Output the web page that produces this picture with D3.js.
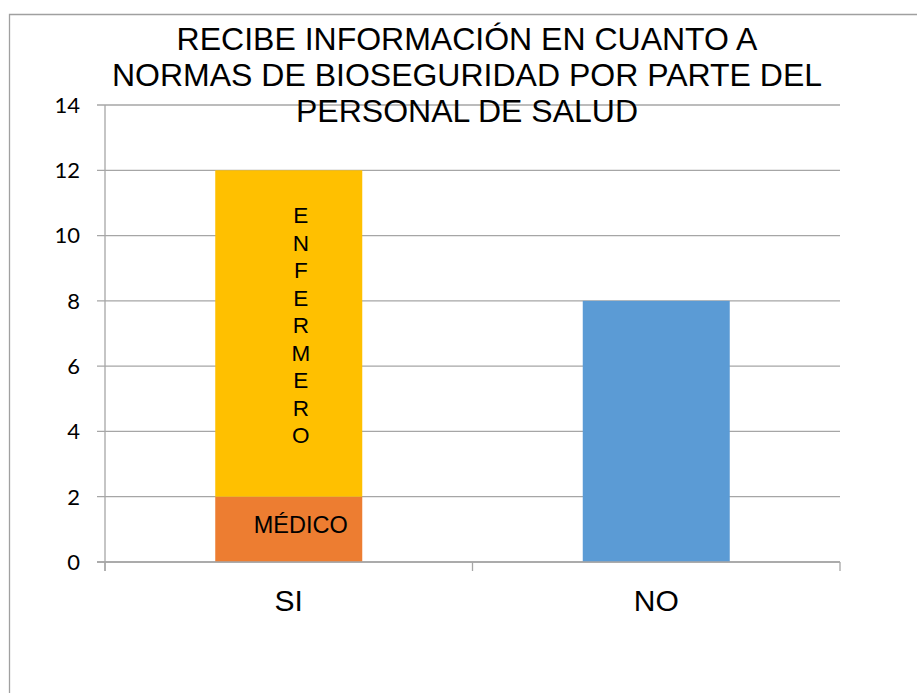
<!DOCTYPE html>
<html>
<head>
<meta charset="utf-8">
<script src="https://cdn.jsdelivr.net/npm/d3@7"></script>
<style>
	body { margin: 0; background: #fff; }
	svg { display: block; }
	.grid line { stroke: #a6a6a6; stroke-width: 1.3; }
	.tick_lbl { font-family: Lato, sans-serif; font-size: 22px; fill: #000; }
</style>
</head>
<body>
<div id="chart"></div>
<script>
// chart values
const categories = ['SI', 'NO'];
const seriesKeys = ['medico', 'enfermero', 'no'];
const medico = [2, 0];
const enfermero = [10, 0];
const no = [0, 8];
const seriesLabels = ['MÉDICO', 'ENFERMERO', ''];
const yTicks = [0, 2, 4, 6, 8, 10, 12, 14];
const titleLines = [
	'RECIBE INFORMACIÓN EN CUANTO A',
	'NORMAS DE BIOSEGURIDAD POR PARTE DEL',
	'PERSONAL DE SALUD'
];

const colors = {medico: '#ED7D31', enfermero: '#FFC000', no: '#5B9BD5'};

const W = 917, H = 693;
const m = {l: 105, r: 77, t: 105, b: 131};

const svg = d3.select('#chart').append('svg')
	.attr('width', W)
	.attr('height', H);

// outer frame (only top and left visible)
svg.append('path')
	.attr('d', 'M9.5,' + H + 'V14.5H' + W)
	.attr('fill', 'none')
	.attr('stroke', '#a0a0a0')
	.attr('stroke-width', 1.3);

const x = d3.scaleBand()
	.domain(categories)
	.range([m.l, W - m.r])
	.paddingInner(0.6)
	.paddingOuter(0.3);

const xGroup = d3.scaleBand()
	.domain(categories)
	.range([m.l, W - m.r]);

const y = d3.scaleLinear()
	.domain([0, 14])
	.range([H - m.b, m.t]);

// gridlines + left ticks
const grid = svg.append('g').attr('class', 'grid');
grid.selectAll('line.h')
	.data(yTicks).enter()
	.append('line')
	.attr('class', 'h')
	.attr('x1', m.l - 8)
	.attr('x2', W - m.r)
	.attr('y1', d => y(d))
	.attr('y2', d => y(d));

// y axis line
grid.append('line')
	.attr('x1', m.l).attr('x2', m.l)
	.attr('y1', y(14)).attr('y2', y(0) + 9);

// x axis category dividers
const xDiv = [m.l].concat(categories.map(c => xGroup(c) + xGroup.bandwidth()));
grid.selectAll('line.v')
	.data(xDiv).enter()
	.append('line')
	.attr('class', 'v')
	.attr('x1', d => d).attr('x2', d => d)
	.attr('y1', y(0)).attr('y2', y(0) + 9);

svg.selectAll('.tick_lbl')
	.data(yTicks).enter()
	.append('text')
	.attr('class', 'tick_lbl')
	.attr('x', m.l - 25)
	.attr('y', d => y(d))
	.attr('dy', '0.36em')
	.attr('text-anchor', 'end')
	.text(d => d);

// stacked bars
const table = categories.map((c, i) => ({cat: c, medico: medico[i], enfermero: enfermero[i], no: no[i]}));
const stacked = d3.stack().keys(seriesKeys)(table);

const gSeries = svg.selectAll('.g_series')
	.data(stacked).enter()
	.append('g')
	.attr('class', 'g_series')
	.attr('fill', d => colors[d.key]);

gSeries.selectAll('rect')
	.data(d => d.filter(p => p[1] > p[0]))
	.enter()
	.append('rect')
	.attr('x', d => x(d.data.cat))
	.attr('width', x.bandwidth())
	.attr('y', d => y(d[1]))
	.attr('height', d => y(d[0]) - y(d[1]));

// redraw the zero line above the bars
svg.append('line')
	.attr('x1', m.l - 8).attr('x2', W - m.r)
	.attr('y1', y(0)).attr('y2', y(0))
	.attr('stroke', '#a6a6a6')
	.attr('stroke-width', 1.3);

// labels inside SI bar
const lblX = x('SI') + x.bandwidth() / 2 + 12;
const med = stacked[0][0];
svg.append('text')
	.attr('x', lblX)
	.attr('y', y(med[1]) + 36)
	.attr('text-anchor', 'middle')
	.style('font-family', 'Liberation Sans, Arial, sans-serif')
	.style('font-size', '23.5px')
	.text(seriesLabels[0]);

const enf = stacked[1][0];
const letters = seriesLabels[1].split('');
const lineH = 27.5;
const startY = y(enf[1]) + 53;
svg.append('g').selectAll('text')
	.data(letters).enter()
	.append('text')
	.attr('x', lblX)
	.attr('y', (d, i) => startY + i * lineH)
	.attr('text-anchor', 'middle')
	.style('font-family', 'Liberation Sans, Arial, sans-serif')
	.style('font-size', '22.5px')
	.text(d => d);

// category labels
svg.selectAll('.cat_lbl')
	.data(categories).enter()
	.append('text')
	.attr('class', 'cat_lbl')
	.attr('x', d => xGroup(d) + xGroup.bandwidth() / 2)
	.attr('y', y(0) + 49)
	.attr('text-anchor', 'middle')
	.style('font-family', 'Liberation Sans, Arial, sans-serif')
	.style('font-size', '30px')
	.text(d => d);

// title
const titleY = [49.5, 85.8, 122];
svg.selectAll('.title')
	.data(titleLines).enter()
	.append('text')
	.attr('class', 'title')
	.attr('x', 467)
	.attr('y', (d, i) => titleY[i])
	.attr('text-anchor', 'middle')
	.style('font-family', 'Liberation Sans, Arial, sans-serif')
	.style('font-size', '32px')
	.text(d => d);
</script>
</body>
</html>
